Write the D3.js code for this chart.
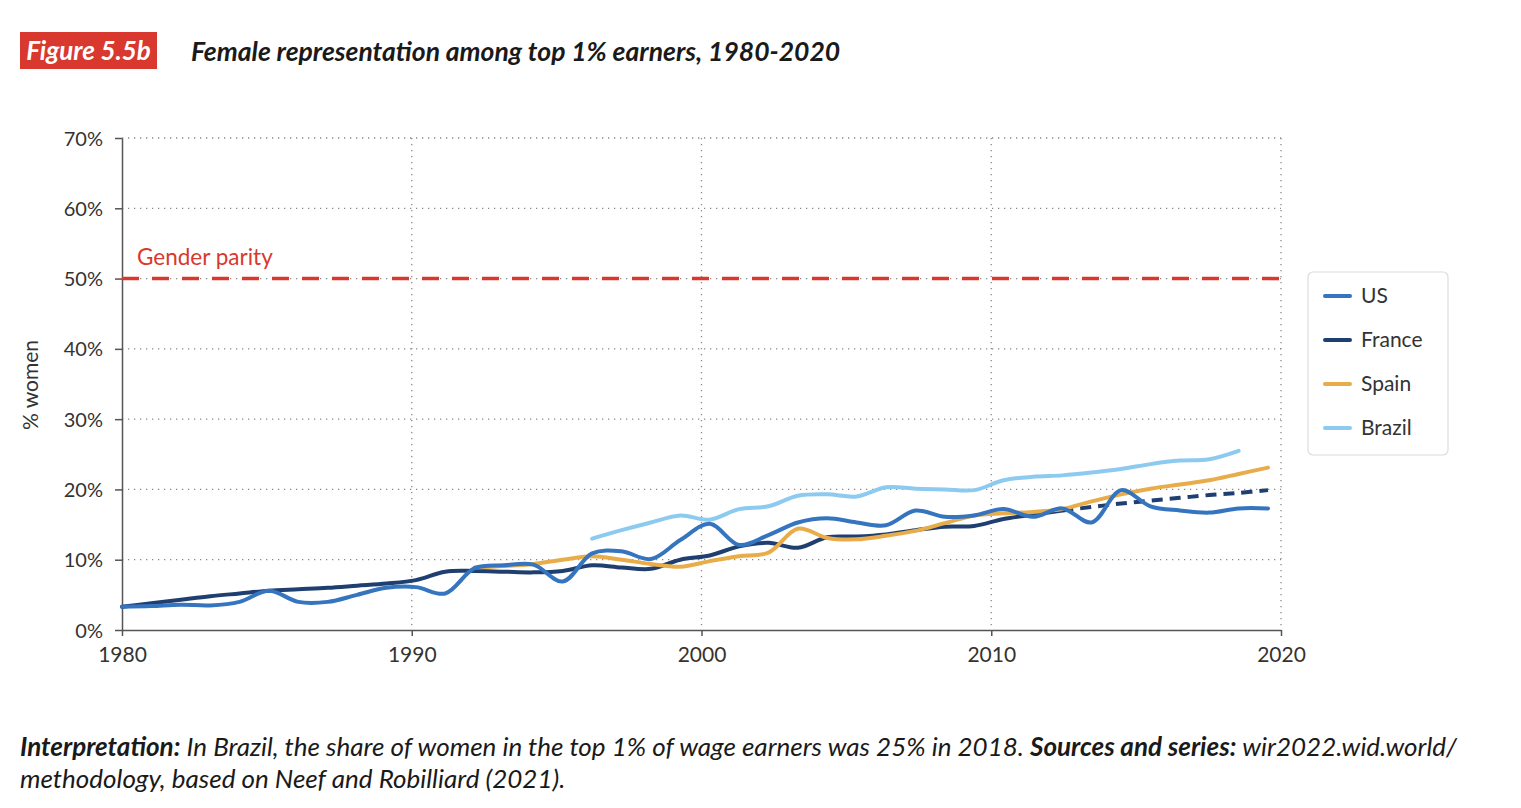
<!DOCTYPE html>
<html><head><meta charset="utf-8">
<script src="https://cdn.jsdelivr.net/npm/d3@7"></script>
<style>body{margin:0;background:#fff;} svg{display:block;}</style>
</head><body>
<svg id="chart" width="1521" height="808"></svg>
<script>
// ---- data ----
const yearsUS = d3.range(1980, 2020);
const valuesUS = [3.3,3.4,3.6,3.5,4.0,5.6,4.0,4.0,5.0,6.0,6.1,5.2,8.8,9.2,9.3,6.9,10.9,11.2,10.1,12.8,
  15.1,12.1,13.5,15.3,15.9,15.3,14.9,17.0,16.1,16.3,17.2,16.1,17.3,15.3,19.9,17.6,17.0,16.7,17.3,17.3];
const yearsFrance = d3.range(1980, 2013);
const valuesFrance = [3.3,3.8,4.3,4.8,5.2,5.6,5.8,6.0,6.3,6.6,7.1,8.3,8.4,8.3,8.2,8.4,9.2,8.9,8.7,10.0,
  10.6,11.9,12.4,11.7,13.2,13.3,13.6,14.2,14.7,14.8,15.8,16.4,17.0];
const yearsFranceProj = d3.range(2012, 2020);
const valuesFranceProj = [17.0,17.5,18.0,18.4,18.8,19.2,19.5,19.9];
const yearsSpain = d3.range(1992, 2020);
const valuesSpain = [8.9,9.1,9.4,10.0,10.5,10.0,9.4,9.0,9.8,10.5,11.0,14.4,13.1,12.9,13.4,14.1,15.2,16.3,16.6,16.8,
  17.2,18.3,19.3,20.1,20.7,21.3,22.2,23.1];
const yearsBrazil = d3.range(1996, 2019);
const valuesBrazil = [13.0,14.2,15.3,16.3,15.7,17.2,17.6,19.1,19.3,19.0,20.3,20.1,20.0,19.9,21.3,21.8,22.0,22.4,22.9,23.6,24.1,24.3,25.5];
const parityValue = 50;
const yTicks = [0,10,20,30,40,50,60,70];
const xTicks = [1980,1990,2000,2010,2020];
const seriesNames = ["US","France","Spain","Brazil"];
const seriesColors = ["#3574bf","#1f3f70","#e8ad4a","#8dcaf0"];

// ---- layout ----
const svg = d3.select("#chart");
const L = 122, R = 1281, T = 138, B = 630;
const x = d3.scaleLinear().domain([1980, 2020]).range([L, R]);
const xData = d3.scaleLinear().domain([1980, 2019]).range([L, 1268]);
const y = d3.scaleLinear().domain([0, 70]).range([B, T]);
const font = "Lato, 'Open Sans', sans-serif";

// title
svg.append("rect").attr("x",20).attr("y",32).attr("width",137).attr("height",37).attr("fill","#d8382e");
svg.append("text").attr("x",88.5).attr("y",60).attr("text-anchor","middle")
  .attr("font-family",font).attr("font-weight","bold").attr("font-style","italic").attr("font-size",26)
  .attr("fill","#fff").text("Figure 5.5b");
svg.append("text").attr("x",191).attr("y",61)
  .attr("font-family",font).attr("font-weight","bold").attr("font-style","italic").attr("font-size",26.5)
  .attr("fill","#1a1a1a").text("Female representation among top 1% earners, 1980-2020");

// gridlines
const grid = svg.append("g");
grid.selectAll("line.h").data(yTicks.filter(d=>d>0)).join("line")
  .attr("x1",L).attr("x2",R).attr("y1",d=>y(d)).attr("y2",d=>y(d))
  .attr("stroke","#8a8a8a").attr("stroke-width",1.3).attr("stroke-dasharray","1.3,4.7");
grid.selectAll("line.v").data(xTicks.filter(d=>d>1980)).join("line")
  .attr("x1",d=>x(d)).attr("x2",d=>x(d)).attr("y1",T).attr("y2",B)
  .attr("stroke","#8a8a8a").attr("stroke-width",1.3).attr("stroke-dasharray","1.3,4.7");

// axes
const yAxis = svg.append("g").attr("transform",`translate(${L},0)`)
  .call(d3.axisLeft(y).tickValues(yTicks).tickFormat(d=>d+"%").tickSize(7).tickSizeOuter(0));
const xAxis = svg.append("g").attr("transform",`translate(0,${B})`)
  .call(d3.axisBottom(x).tickValues(xTicks).tickFormat(d3.format("d")).tickSize(6).tickSizeOuter(0));
[yAxis,xAxis].forEach(g=>{
  g.select(".domain").attr("stroke","#555").attr("stroke-width",1.5);
  g.selectAll(".tick line").attr("stroke","#555").attr("stroke-width",1.5);
  g.selectAll(".tick text").attr("font-family",font).attr("fill","#333");
});
yAxis.selectAll(".tick text").attr("x",-19).attr("dy","0.35em").attr("font-size",20);
xAxis.selectAll(".tick text").attr("y",17).attr("font-size",21);

svg.append("text").attr("transform","translate(38,385) rotate(-90)").attr("text-anchor","middle")
  .attr("font-family",font).attr("font-size",21).attr("fill","#333").text("% women");

// parity line
svg.append("line").attr("x1",L).attr("x2",R).attr("y1",y(parityValue)).attr("y2",y(parityValue))
  .attr("stroke","#d8382e").attr("stroke-width",3.5).attr("stroke-dasharray","17,13");
svg.append("text").attr("x",137).attr("y",265).attr("font-family",font).attr("font-size",22.5)
  .attr("fill","#d8382e").text("Gender parity");

// lines
const line = d3.line().x(d=>xData(d[0])).y(d=>y(d[1])).curve(d3.curveCatmullRom.alpha(0.5));
const zip = (a,b)=>a.map((v,i)=>[v,b[i]]);
const lineData = [
  {d: zip(yearsFrance, valuesFrance), c: seriesColors[1]},
  {d: zip(yearsSpain, valuesSpain), c: seriesColors[2]},
  {d: zip(yearsBrazil, valuesBrazil), c: seriesColors[3]},
  {d: zip(yearsUS, valuesUS), c: seriesColors[0]},
];
svg.append("path").datum(zip(yearsFranceProj, valuesFranceProj)).attr("d",line)
  .attr("fill","none").attr("stroke",seriesColors[1]).attr("stroke-width",4).attr("stroke-dasharray","11,7");
lineData.forEach(s=>{
  svg.append("path").datum(s.d).attr("d",line).attr("fill","none").attr("stroke",s.c)
    .attr("stroke-width",4).attr("stroke-linecap","round").attr("stroke-linejoin","round");
});

// legend
const lg = svg.append("g");
lg.append("rect").attr("x",1308).attr("y",272).attr("width",140).attr("height",183).attr("rx",5)
  .attr("fill","#fff").attr("stroke","#dcdcdc").attr("stroke-width",1.2);
seriesNames.forEach((n,i)=>{
  const yy = 296 + i*44;
  lg.append("line").attr("x1",1325).attr("x2",1350).attr("y1",yy).attr("y2",yy)
    .attr("stroke",seriesColors[i]).attr("stroke-width",4).attr("stroke-linecap","round");
  lg.append("text").attr("x",1361).attr("y",yy).attr("dy","0.35em").attr("font-family",font)
    .attr("font-size",21).attr("fill","#333").text(n);
});

// footnote
const fn = svg.append("g").attr("font-family",font).attr("font-size",26).attr("font-style","italic").attr("fill","#1a1a1a");
const t1 = fn.append("text").attr("x",20).attr("y",756);
t1.append("tspan").attr("font-weight","bold").text("Interpretation:");
t1.append("tspan").text(" In Brazil, the share of women in the top 1% of wage earners was 25% in 2018. ");
t1.append("tspan").attr("font-weight","bold").text("Sources and series:");
t1.append("tspan").text(" wir2022.wid.world/");
fn.append("text").attr("x",20).attr("y",788).text("methodology, based on Neef and Robilliard (2021).");
</script>
</body></html>
